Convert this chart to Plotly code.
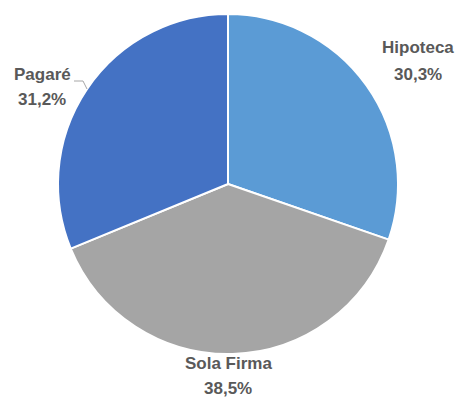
import plotly.graph_objects as go

labels = ["Hipoteca", "Sola Firma", "Pagaré"]
values = [30.3, 38.5, 31.2]
colors = ["#5B9BD5", "#A5A5A5", "#4472C4"]
pct_text = ["30,3%", "38,5%", "31,2%"]

W, H = 458, 398
cx, cy, r = 228, 184, 170

fig = go.Figure(go.Pie(
    labels=labels, values=values, sort=False, direction="clockwise", rotation=0,
    marker=dict(colors=colors, line=dict(color="white", width=2)),
    textinfo="none", hoverinfo="label+percent", showlegend=False,
    domain=dict(x=[(cx - r) / W, (cx + r) / W], y=[1 - (cy + r) / H, 1 - (cy - r) / H]),
))

label_pos = [(418, 48, 74), (228, 363, 388), (42, 74, 100)]
font = dict(family="Liberation Sans", size=17, color="#595959")
for name, pct, (x, y1, y2) in zip(labels, pct_text, label_pos):
    for txt, y in ((f"<b>{name}</b>", y1), (f"<b>{pct}</b>", y2)):
        fig.add_annotation(x=x / W, y=1 - y / H, xref="paper", yref="paper", text=txt,
                           showarrow=False, font=font, xanchor="center", yanchor="middle")

fig.add_shape(type="path", xref="paper", yref="paper",
              path=f"M {74/W} {1-81/H} L {83/W} {1-81/H} L {87/W} {1-89/H}",
              line=dict(color="#A6A6A6", width=1))

fig.update_layout(width=W, height=H, margin=dict(l=0, r=0, t=0, b=0),
                  paper_bgcolor="white", plot_bgcolor="white")
fig.write_html("out.html")
